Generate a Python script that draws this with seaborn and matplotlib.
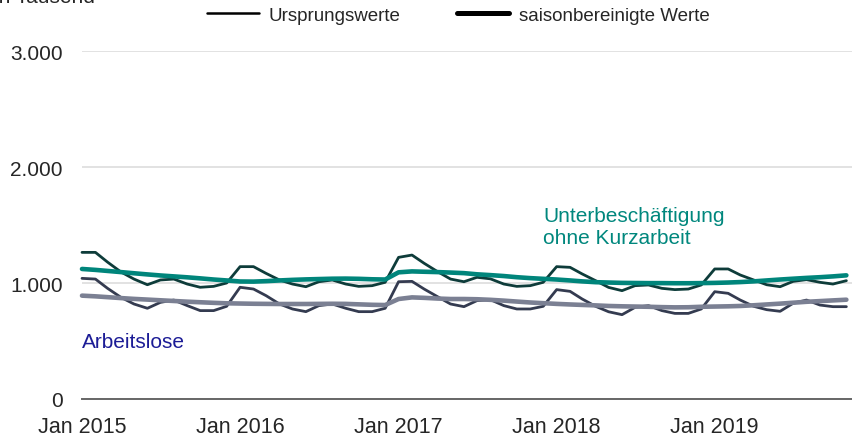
import pandas as pd
import numpy as np
import seaborn as sns
import matplotlib
matplotlib.use("Agg")
import matplotlib.pyplot as plt
from matplotlib.lines import Line2D
from matplotlib.ticker import FuncFormatter

# monthly values in thousands, Jan 2015 - Nov 2019
months = pd.date_range("2015-01-01", periods=59, freq="MS")

unter_orig = [1264, 1264, 1180, 1095, 1034, 985, 1026, 1034, 991, 963, 971, 1000,
              1141, 1141, 1083, 1026, 991, 968, 1011, 1026, 991, 971, 977, 1006,
              1221, 1241, 1170, 1098, 1034, 1011, 1049, 1036, 991, 971, 977, 1006,
              1141, 1135, 1078, 1020, 962, 934, 977, 983, 954, 943, 948, 983,
              1121, 1121, 1069, 1026, 985, 968, 1014, 1029, 1006, 991, 1020]
unter_sa = [1121, 1113, 1104, 1094, 1084, 1074, 1065, 1057, 1049, 1040, 1030, 1022,
            1013, 1012, 1016, 1022, 1027, 1031, 1034, 1037, 1038, 1036, 1032, 1030,
            1092, 1100, 1097, 1094, 1090, 1085, 1075, 1068, 1060, 1050, 1042, 1036,
            1030, 1022, 1014, 1007, 1004, 1001, 1000, 999, 999, 998, 998, 999,
            1001, 1004, 1008, 1014, 1022, 1030, 1037, 1044, 1050, 1057, 1066]
alo_orig = [1040, 1034, 954, 876, 819, 782, 833, 853, 805, 762, 762, 799,
            963, 948, 891, 819, 776, 753, 805, 819, 782, 753, 753, 782,
            1011, 1014, 948, 882, 819, 796, 848, 856, 805, 776, 776, 799,
            943, 928, 862, 799, 752, 727, 790, 805, 762, 738, 738, 776,
            925, 911, 853, 799, 770, 756, 825, 853, 810, 796, 796]
alo_sa = [891, 885, 878, 870, 863, 857, 851, 845, 839, 834, 829, 825,
          823, 821, 820, 819, 819, 819, 820, 821, 820, 816, 812, 810,
          862, 876, 872, 866, 862, 862, 860, 855, 848, 840, 832, 826,
          820, 815, 811, 807, 802, 799, 797, 795, 792, 790, 791, 795,
          797, 799, 802, 808, 815, 822, 830, 838, 844, 850, 856]

yticks = [0, 1000, 2000, 3000]
xtick_years = [2015, 2016, 2017, 2018, 2019]

df = pd.DataFrame({"Monat": months, "unter_orig": unter_orig, "unter_sa": unter_sa,
                   "alo_orig": alo_orig, "alo_sa": alo_sa})

sns.set_style("white")
plt.rcParams["font.family"] = ["Liberation Sans", "DejaVu Sans"]

fig = plt.figure(figsize=(8.52, 4.39), dpi=100)
ax = fig.add_axes([82 / 852, 39 / 439, 770 / 852, 348 / 439])

thin, thick = 2.0, 3.3
sns.lineplot(data=df, x="Monat", y="alo_orig", ax=ax, color="#343b50", linewidth=thin)
sns.lineplot(data=df, x="Monat", y="alo_sa", ax=ax, color="#7b8093", linewidth=thick)
sns.lineplot(data=df, x="Monat", y="unter_orig", ax=ax, color="#0e3c3a", linewidth=thin)
sns.lineplot(data=df, x="Monat", y="unter_sa", ax=ax, color="#00857b", linewidth=thick)

ax.set_ylim(0, 3000)
ax.set_xlim(pd.Timestamp("2015-01-01"), pd.Timestamp("2019-11-14"))
ax.set_yticks(yticks)
ax.yaxis.set_major_formatter(FuncFormatter(lambda v, p: f"{int(v):,}".replace(",", ".")))
ax.set_xticks([pd.Timestamp(f"{y}-01-01") for y in xtick_years])
ax.set_xticklabels([f"Jan {y}" for y in xtick_years])
ax.tick_params(axis="y", length=0, pad=14, labelsize=15)
ax.tick_params(axis="x", length=0, pad=12.5, labelsize=15.5)
ax.set_xlabel("")
ax.set_ylabel("")
ax.grid(axis="y", color="#dddddd", linewidth=1.2)
for s in ["left", "right", "top"]:
    ax.spines[s].set_visible(False)
ax.spines["bottom"].set_color("#666666")
ax.spines["bottom"].set_linewidth(1.4)
for l in ax.get_lines():
    l.set_clip_on(False)

ax.text(0.599, 0.5124, "Unterbeschäftigung", transform=ax.transAxes,
        color="#00877d", fontsize=15, va="baseline", ha="left")
ax.text(0.599, 0.4483, "ohne Kurzarbeit", transform=ax.transAxes,
        color="#00877d", fontsize=15, va="baseline", ha="left")
ax.text(0.0, 0.1486, "Arbeitslose", transform=ax.transAxes,
        color="#1c1c96", fontsize=15, va="baseline", ha="left")

# the unit label sits partly above the top edge, as in the source image
fig.text(-0.007, 1 - 3 / 439, "in Tausend", fontsize=15, va="baseline", ha="left")

handles = [Line2D([], [], color="black", linewidth=1.8),
           Line2D([], [], color="black", linewidth=3.6)]
fig.legend(handles, ["Ursprungswerte", "saisonbereinigte Werte"], loc="center",
           bbox_to_anchor=(458 / 852, 1 - 16 / 439), ncol=2, frameon=False,
           fontsize=13.5, handlelength=2.8, handletextpad=0.5, columnspacing=3.0,
           borderpad=0, borderaxespad=0)

fig.savefig("out.png", dpi=100)
